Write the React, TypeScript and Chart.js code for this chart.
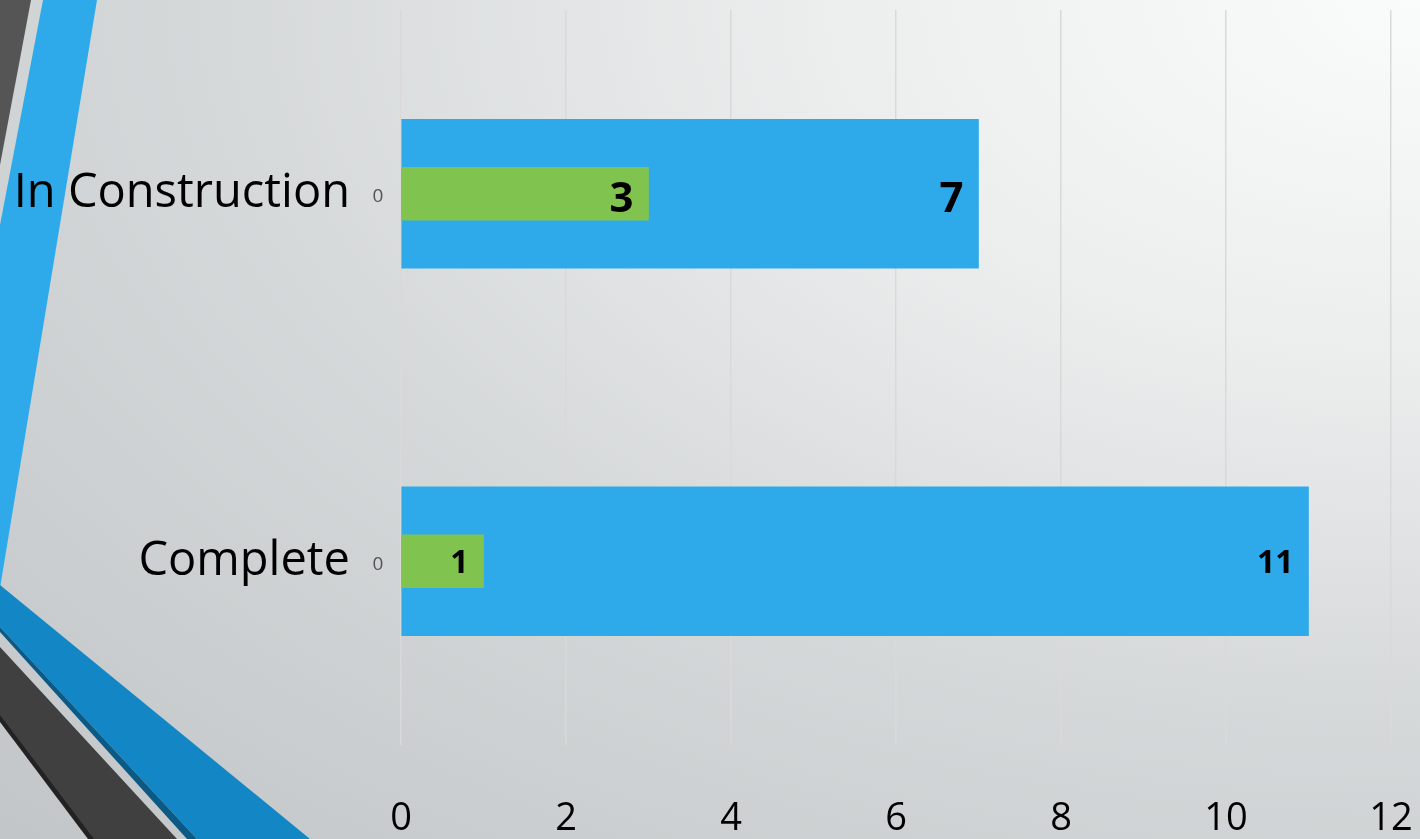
import React, { useEffect, useRef } from "react";
import { Chart, registerables } from "chart.js";

Chart.register(...registerables);

const categories = ["In Construction", "Complete"];
const totalSeries = [7, 11];
const subsetSeries = [3, 1];
const zeroSeries = [0, 0];
const xTicks = [0, 2, 4, 6, 8, 10, 12];

const FONT = "'Open Sans', Lato, sans-serif";

const labelPlugin = {
  id: "valueLabels",
  afterDatasetsDraw(chart: any) {
    const ctx = chart.ctx;
    const xScale = chart.scales.x;
    ctx.save();
    ctx.textBaseline = "middle";
    ctx.fillStyle = "#000";
    chart.data.datasets.forEach((ds: any, di: number) => {
      const meta = chart.getDatasetMeta(di);
      meta.data.forEach((bar: any, i: number) => {
        const v = ds.data[i];
        const small = v === 1 || v === 11;
        const size = small ? 32 : 42;
        ctx.font = `bold ${size}px ${FONT}`;
        ctx.textAlign = "right";
        ctx.fillText(String(v), bar.x - 15, bar.y + (small ? 3 : 6));
      });
    });
    // zero-valued series labels
    const meta0 = chart.getDatasetMeta(0);
    ctx.font = `19px ${FONT}`;
    ctx.fillStyle = "#555";
    ctx.textAlign = "center";
    zeroSeries.forEach((v, i) => {
      const bar = meta0.data[i];
      ctx.fillText(String(v), xScale.getPixelForValue(v) - 23, bar.y + 3);
    });
    ctx.restore();
  },
};

const zeroPad = (s: any) => {
  s.paddingLeft = 0;
  s.paddingRight = 0;
  s.paddingTop = 0;
  s.paddingBottom = 0;
};

export default function App() {
  const ref = useRef<HTMLCanvasElement>(null);
  useEffect(() => {
    document.body.style.margin = "0";
    const chart = new Chart(ref.current!, {
      type: "bar",
      data: {
        labels: categories,
        datasets: [
          {
            label: "Subset",
            data: subsetSeries,
            backgroundColor: "#80c34f",
            barThickness: 53,
            grouped: false,
            order: 1,
          } as any,
          {
            label: "Total",
            data: totalSeries,
            backgroundColor: "#2eaaea",
            barThickness: 149,
            grouped: false,
            order: 2,
          } as any,
        ],
      },
      options: {
        indexAxis: "y",
        animation: false,
        responsive: false,
        layout: { padding: { top: 10, right: 29, left: 0, bottom: 0 } },
        plugins: { legend: { display: false }, tooltip: { enabled: false } },
        scales: {
          x: {
            min: 0,
            max: 12,
            afterBuildTicks: (s: any) => {
              s.ticks = xTicks.map((v) => ({ value: v }));
            },
            afterFit: (s: any) => {
              s.height = 94;
              zeroPad(s);
            },
            grid: { color: "#d9d9d9", lineWidth: 1.5, drawTicks: false },
            border: { display: false },
            ticks: {
              padding: 51,
              color: "#000",
              font: { family: FONT, size: 38 },
            },
          },
          y: {
            afterFit: (s: any) => {
              s.width = 401;
              zeroPad(s);
            },
            grid: { display: false, drawTicks: false },
            border: { display: false },
            ticks: {
              padding: 51,
              color: "#000",
              font: { family: FONT, size: 47 },
            },
          },
        },
      },
      plugins: [labelPlugin],
    });
    return () => chart.destroy();
  }, []);

  return (
    <div
      style={{
        position: "absolute",
        left: 0,
        top: 0,
        width: 1420,
        height: 839,
        overflow: "hidden",
        background:
          "radial-gradient(ellipse 140% 140% at 100% 0%, #fafbfb 0%, #eceeee 30%, #d6d9da 60%, #c2c6c8 100%)",
      }}
    >
      <svg
        width={1420}
        height={839}
        style={{ position: "absolute", left: 0, top: 0 }}
      >
        <polygon points="0,0 31,0 0,165" fill="#555555" />
        <polygon points="43,0 97,0 0,588 0,225" fill="#2eaaea" />
        <polygon points="0,585 310,839 197,839 0,627" fill="#1387c5" />
        <polygon points="0,627 197,839 187,839 0,632" fill="#0b5a86" />
        <polygon points="0,647 177,839 90,839 0,720" fill="#404040" />
        <polygon points="0,715 94,839 88,839 0,722" fill="#222222" />
      </svg>
      <canvas
        ref={ref}
        width={1420}
        height={839}
        style={{ position: "absolute", left: 0, top: 0 }}
      />
    </div>
  );
}
